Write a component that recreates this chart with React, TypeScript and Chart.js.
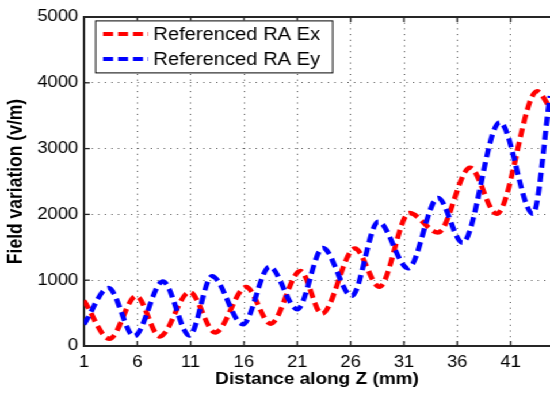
import React, { useEffect, useRef } from 'react';
import { Chart, registerables } from 'chart.js';

Chart.register(...registerables);

// ---- data ----
const exX = [1, 3.4, 5.9, 8.1, 10.9, 13.3, 16.2, 18.5, 21.3, 23.3, 26.4, 28.7, 31.5, 34.2, 37.2, 39.7, 43.5, 44.7];
const exY = [690, 110, 760, 145, 820, 205, 895, 340, 1140, 490, 1480, 900, 2020, 1725, 2710, 2010, 3870, 3620];
const eyX = [1, 3.3, 5.7, 8.4, 10.9, 13.0, 15.9, 18.4, 21.0, 23.4, 26.1, 28.6, 31.4, 34.2, 36.5, 40.0, 43.1, 44.7];
const eyY = [330, 880, 150, 980, 160, 1060, 330, 1205, 560, 1490, 760, 1890, 1180, 2250, 1570, 3400, 2010, 3800];
const xTicks = [1, 6, 11, 16, 21, 26, 31, 36, 41];
const yTicks = [0, 1000, 2000, 3000, 4000, 5000];
const seriesLabels = ['Referenced RA Ex', 'Referenced RA Ey'];
const seriesColors = ['#ff0000', '#0000ff'];
const xTitle = 'Distance along Z (mm)';
const yTitle = 'Field variation (v/m)';

const W = 478;
const H = 393;
const SX = 550 / W;
const FONT = '"Liberation Sans", Arial, Helvetica, sans-serif';

const framePlugin = {
  id: 'frame',
  afterDatasetsDraw(chart: any) {
    const { ctx, chartArea: a, scales } = chart;
    ctx.save();
    // top border
    ctx.strokeStyle = '#262626';
    ctx.lineWidth = 2;
    ctx.beginPath();
    ctx.moveTo(a.left - 1, a.top);
    ctx.lineTo(a.right + 2, a.top);
    ctx.stroke();
    // inward tick marks
    ctx.lineWidth = 1.3;
    const tl = 5;
    scales.x.ticks.forEach((t: any) => {
      const px = scales.x.getPixelForValue(t.value);
      ctx.beginPath();
      ctx.moveTo(px, a.bottom);
      ctx.lineTo(px, a.bottom - tl);
      ctx.moveTo(px, a.top);
      ctx.lineTo(px, a.top + tl);
      ctx.stroke();
    });
    scales.y.ticks.forEach((t: any) => {
      const py = scales.y.getPixelForValue(t.value);
      ctx.beginPath();
      ctx.moveTo(a.left, py);
      ctx.lineTo(a.left + tl, py);
      ctx.stroke();
    });
    // legend box
    const bx = a.left + 9.6;
    const by = a.top + 3.4;
    const bw = 206;
    const bh = 52;
    ctx.fillStyle = '#ffffff';
    ctx.fillRect(bx, by, bw, bh);
    ctx.strokeStyle = '#000000';
    ctx.lineWidth = 1;
    ctx.strokeRect(bx + 0.5, by + 0.5, bw, bh);
    chart.data.datasets.forEach((ds: any, i: number) => {
      const cy = by + 13.7 + i * 25;
      ctx.save();
      ctx.strokeStyle = ds.borderColor;
      ctx.lineWidth = 4;
      ctx.setLineDash([8.7, 4.3]);
      ctx.beginPath();
      ctx.moveTo(bx + 7, cy);
      ctx.lineTo(bx + 46.4, cy);
      ctx.stroke();
      ctx.restore();
      ctx.fillStyle = '#000000';
      ctx.font = `17.5px ${FONT}`;
      ctx.textBaseline = 'middle';
      ctx.textAlign = 'left';
      ctx.fillText(ds.label, bx + 50.7, cy + 1);
    });
    ctx.restore();
  },
};

export default function App() {
  const ref = useRef<HTMLCanvasElement | null>(null);
  useEffect(() => {
    if (!ref.current) return;
    const chart = new Chart(ref.current, {
      type: 'line',
      data: {
        datasets: [
          {
            label: seriesLabels[0],
            data: exX.map((x, i) => ({ x, y: exY[i] })),
            borderColor: seriesColors[0],
            backgroundColor: seriesColors[0],
            borderWidth: 4.5,
            borderDash: [9, 5],
            pointRadius: 0,
            cubicInterpolationMode: 'monotone',
            fill: false,
            order: 2,
          },
          {
            label: seriesLabels[1],
            data: eyX.map((x, i) => ({ x, y: eyY[i] })),
            borderColor: seriesColors[1],
            backgroundColor: seriesColors[1],
            borderWidth: 4.5,
            borderDash: [9, 5],
            pointRadius: 0,
            cubicInterpolationMode: 'monotone',
            fill: false,
            order: 1,
          },
        ],
      },
      options: {
        animation: false,
        responsive: false,
        devicePixelRatio: 1,
        layout: { padding: { top: 17, right: 0, bottom: 0, left: 0 } },
        plugins: {
          legend: { display: false },
          tooltip: { enabled: false },
        },
        scales: {
          x: {
            type: 'linear',
            min: 1,
            max: 44.7,
            afterBuildTicks: (s: any) => {
              s.ticks = xTicks.map((v) => ({ value: v }));
            },
            afterFit: (s: any) => {
              s.height = 47;
            },
            ticks: {
              autoSkip: false,
              maxRotation: 0,
              padding: 7,
              color: '#000',
              font: { family: FONT, size: 16 },
              callback: (v: any) => String(v),
            },
            grid: {
              color: 'rgba(0,0,0,0.7)',
              lineWidth: 1,
              drawTicks: false,
            },
            border: { display: true, color: '#262626', width: 2, dash: [1, 4.7] },
            title: {
              display: true,
              text: xTitle,
              color: '#000',
              font: { family: FONT, size: 16.5, weight: 'bold' },
              padding: { top: 0, bottom: 4 },
            },
          },
          y: {
            type: 'linear',
            min: 0,
            max: 5000,
            afterBuildTicks: (s: any) => {
              s.ticks = yTicks.map((v) => ({ value: v }));
            },
            afterFit: (s: any) => {
              s.width = 73;
            },
            ticks: {
              padding: 5,
              color: '#000',
              font: { family: FONT, size: 16 },
              callback: (v: any) => String(v),
            },
            grid: {
              color: 'rgba(0,0,0,0.7)',
              lineWidth: 1,
              drawTicks: false,
            },
            border: { display: true, color: '#262626', width: 2, dash: [1, 4.7] },
            title: {
              display: true,
              text: yTitle,
              color: '#000',
              font: { family: FONT, size: 17.5, weight: 'bold' },
              padding: { top: 4, bottom: 0 },
            },
          },
        },
      },
      plugins: [framePlugin],
    } as any);
    return () => chart.destroy();
  }, []);

  return (
    <div
      style={{
        position: 'fixed',
        left: 0,
        top: 0,
        width: W,
        height: H,
        transform: `scaleX(${SX})`,
        transformOrigin: '0 0',
        background: '#fff',
      }}
    >
      <canvas ref={ref} width={W} height={H} style={{ display: 'block' }} />
    </div>
  );
}
